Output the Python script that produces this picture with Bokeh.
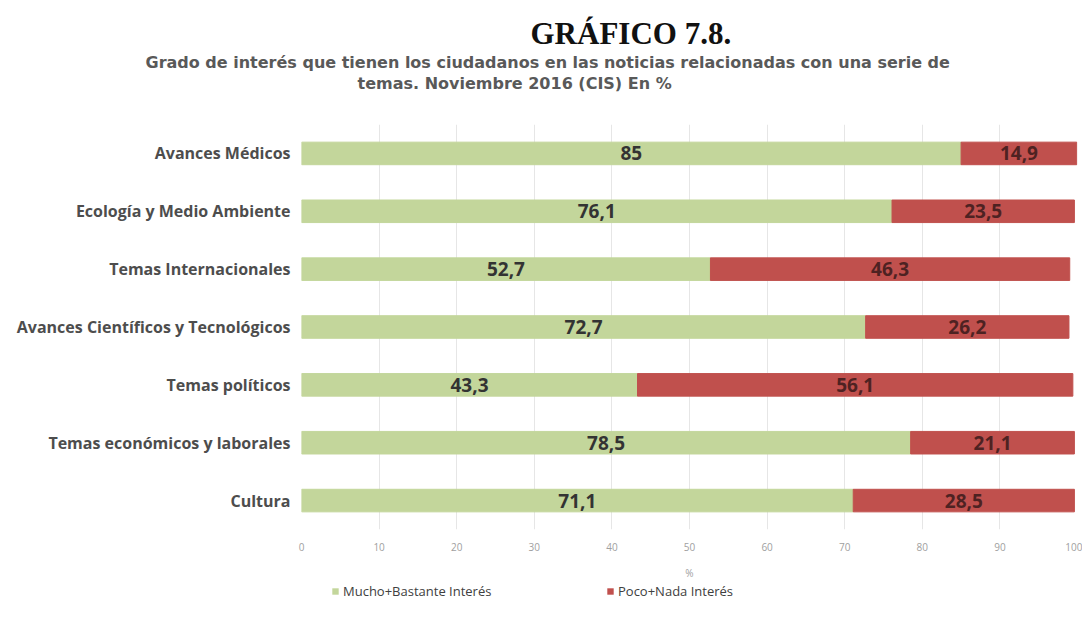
from bokeh.plotting import figure
from bokeh.layouts import column
from bokeh.models import (ColumnDataSource, Title, Legend, LegendItem, FixedTicker, LabelSet,
                          Range1d)
from bokeh.embed import file_html
from bokeh.resources import INLINE
from bokeh.core.properties import value

categories = ["Avances Médicos", "Ecología y Medio Ambiente", "Temas Internacionales",
              "Avances Científicos y Tecnológicos", "Temas políticos",
              "Temas económicos y laborales", "Cultura"]
mucho = [85, 76.1, 52.7, 72.7, 43.3, 78.5, 71.1]
poco = [14.9, 23.5, 46.3, 26.2, 56.1, 21.1, 28.5]
series = ["Mucho+Bastante Interés", "Poco+Nada Interés"]
colors = ["#c3d69b", "#c0504d"]
ticks = [0, 10, 20, 30, 40, 50, 60, 70, 80, 90, 100]

def fmt(v):
    s = ("%.1f" % v).rstrip("0").rstrip(".")
    return s.replace(".", ",")

src = ColumnDataSource(dict(
    cat=categories,
    m_end=list(mucho),
    p_end=[a + b for a, b in zip(mucho, poco)],
    zero=[0] * len(categories),
    m_mid=[a / 2 for a in mucho],
    p_mid=[a + b / 2 for a, b in zip(mucho, poco)],
    m_lab=[fmt(a) for a in mucho],
    p_lab=[fmt(b) for b in poco],
))

p = figure(frame_width=776, frame_height=405, y_range=list(reversed(categories)), x_range=(0, 100),
           output_backend="svg", toolbar_location=None,
           min_border_left=301, min_border_right=5, min_border_top=124, min_border_bottom=52)
p.outline_line_color = None
p.background_fill_color = "white"
p.border_fill_color = "white"

g = p.hbar(y="cat", left="zero", right="m_end", height=0.39, source=src,
           fill_color=colors[0], line_color=colors[0])
r = p.hbar(y="cat", left="m_end", right="p_end", height=0.39, source=src,
           fill_color=colors[1], line_color=colors[1])

font = "Open Sans"
p.add_layout(LabelSet(x="m_mid", y="cat", text="m_lab", source=src, text_align="center",
                      text_baseline="middle", text_font=value(font), text_font_size="19px",
                      text_font_style="bold", text_color="#333333"))
p.add_layout(LabelSet(x="p_mid", y="cat", text="p_lab", source=src, text_align="center",
                      text_baseline="middle", text_font=value(font), text_font_size="19px",
                      text_font_style="bold", text_color="#4e2222"))

p.xaxis.ticker = FixedTicker(ticks=ticks)
p.xaxis.axis_line_color = None
p.xaxis.major_tick_line_color = None
p.xaxis.minor_tick_line_color = None
p.xaxis.major_label_text_font = font
p.xaxis.major_label_text_font_size = "10px"
p.xaxis.major_label_text_color = "#a0a0a0"
p.xaxis.major_label_standoff = 7
p.xaxis.axis_label = "%"
p.xaxis.axis_label_text_font = font
p.xaxis.axis_label_text_font_size = "10px"
p.xaxis.axis_label_text_font_style = "normal"
p.xaxis.axis_label_text_color = "#a0a0a0"
p.xaxis.axis_label_standoff = 12

p.yaxis.axis_line_color = None
p.yaxis.major_tick_line_color = None
p.yaxis.minor_tick_line_color = None
p.yaxis.major_label_text_font = font
p.yaxis.major_label_text_font_size = "16px"
p.yaxis.major_label_text_font_style = "bold"
p.yaxis.major_label_text_color = "#4d4d4d"
p.yaxis.major_label_standoff = 5

p.xgrid.grid_line_color = "#e6e6e6"
p.ygrid.grid_line_color = None
p.y_range.range_padding = 0

# titles: nearest the frame first
p.add_layout(Title(text=" ", text_font_size="2px", standoff=28), "above")
p.add_layout(Title(text="temas. Noviembre 2016 (CIS) En %", align="left", offset=56,
                   text_font="DejaVu Sans", text_font_size="16px", text_font_style="bold",
                   text_color="#595959", standoff=0), "above")
p.add_layout(Title(text="Grado de interés que tienen los ciudadanos en las noticias relacionadas con una serie de",
                   align="left", offset=-156,
                   text_font="DejaVu Sans", text_font_size="16px", text_font_style="bold",
                   text_color="#595959", standoff=0), "above")
p.add_layout(Title(text="GRÁFICO 7.8.", align="left", offset=229,
                   text_font="Liberation Serif", text_font_size="31px", text_font_style="bold",
                   text_color="#111111", standoff=0), "above")

# legend strip below the chart
p2 = figure(frame_width=776, frame_height=24, x_range=Range1d(0, 1), y_range=Range1d(0, 1),
            output_backend="svg", toolbar_location=None,
            min_border_left=301, min_border_right=5, min_border_top=0, min_border_bottom=0)
p2.outline_line_color = None
p2.axis.visible = False
p2.grid.visible = False
p2.border_fill_color = "white"
items = []
for name, col in zip(series, colors):
    # zero-area swatch renderer, only used for the legend glyph
    rr = p2.hbar(y=[0], left=[0], right=[0], height=0, fill_color=col, line_color=col,
                 line_alpha=0)
    items.append(LegendItem(label=name, renderers=[rr]))
legend = Legend(items=items, orientation="horizontal", location=(30, 6),
                glyph_width=8, glyph_height=8, label_standoff=4, label_width=250, spacing=13,
                label_text_font=font, label_text_font_size="13px", label_text_color="#404040",
                border_line_color=None, background_fill_alpha=0, padding=0, margin=0)
p2.add_layout(legend, "center")

layout = column(p, p2, spacing=0)
open("out.html", "w").write(file_html(layout, INLINE))
